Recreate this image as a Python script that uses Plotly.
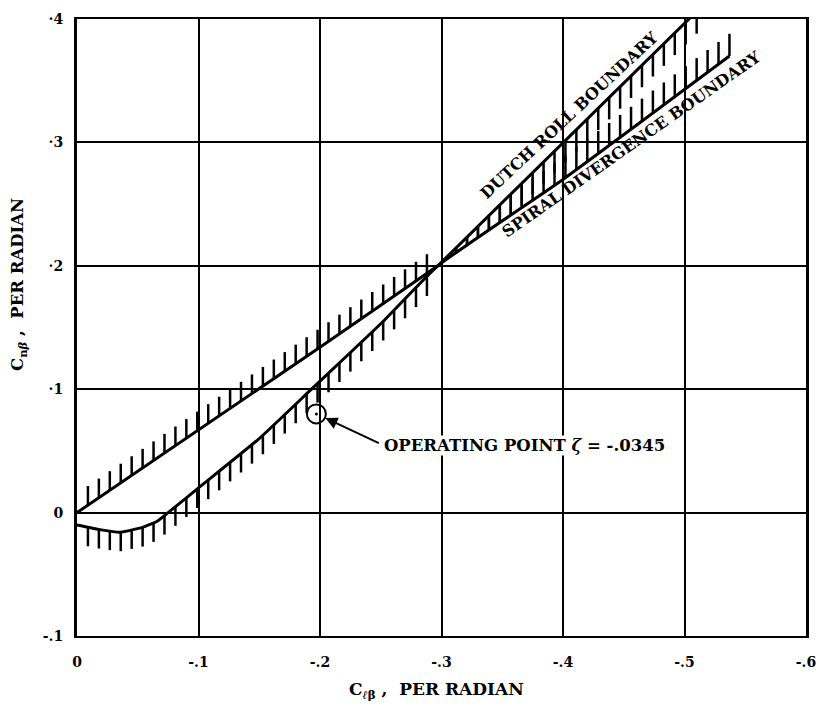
import numpy as np
import plotly.graph_objects as go

# ---- data ----
dutch_x = [0.0, -0.200, -0.297, -0.400, -0.513]
dutch_y = [0.0, 0.134, 0.200, 0.300, 0.409]

spiral_x = [0.0, -0.020, -0.035, -0.054, -0.066, -0.075, -0.100, -0.150, -0.193, -0.250, -0.297, -0.400, -0.537]
spiral_y = [-0.010, -0.014, -0.016, -0.012, -0.007, 0.000, 0.020, 0.060, 0.100, 0.153, 0.200, 0.270, 0.370]

cross_x = -0.297          # where the two boundaries meet
op_x, op_y = [-0.197], [0.080]   # operating point

x_ticks = [0, -0.1, -0.2, -0.3, -0.4, -0.5, -0.6]
x_ticktext = ["0", "-.1", "-.2", "-.3", "-.4", "-.5", "-.6"]
y_ticks = [-0.1, 0, 0.1, 0.2, 0.3, 0.4]
y_ticktext = ["-.1", "0", "·1", "·2", "·3", "·4"]

# ---- hatch style ----
HATCH_STEP = 0.009
HATCH_LEN = 0.0155
HATCH_LEN2 = 0.018

def f(xs, ys, xq):
    return float(np.interp(-xq, -np.array(xs), np.array(ys)))

hx, hy = [], []
def tick(x, y0, y1):
    hx.extend([x, x, None]); hy.extend([y0, y1, None])

q = HATCH_STEP
while -q > cross_x + 0.002:
    xq = -q
    yd = f(dutch_x, dutch_y, xq)
    tick(xq, yd, yd + HATCH_LEN)
    ys = f(spiral_x, spiral_y, xq)
    tick(xq, ys, ys - HATCH_LEN)
    q += HATCH_STEP
q = -cross_x + 0.006
while -q >= spiral_x[-1] - 1e-9:
    xq = -q
    ys = f(spiral_x, spiral_y, xq)
    if xq >= dutch_x[-1]:
        yd = f(dutch_x, dutch_y, xq)
        tick(xq, ys, min(ys + HATCH_LEN2, yd))
        tick(xq, yd, max(yd - HATCH_LEN2, ys))
    else:
        tick(xq, ys, ys + HATCH_LEN2)
    q += HATCH_STEP

FONT = "DejaVu Serif"
fig = go.Figure()
fig.add_trace(go.Scatter(x=hx, y=hy, mode="lines", line=dict(color="black", width=2.5),
                         hoverinfo="skip", showlegend=False))
fig.add_trace(go.Scatter(x=dutch_x, y=dutch_y, mode="lines", line=dict(color="black", width=3),
                         showlegend=False))
fig.add_trace(go.Scatter(x=spiral_x, y=spiral_y, mode="lines",
                         line=dict(color="black", width=3, shape="spline", smoothing=0.4),
                         showlegend=False))
fig.add_trace(go.Scatter(x=op_x, y=op_y, mode="markers",
                         marker=dict(symbol="circle-open", size=19, color="black", line=dict(width=2)),
                         showlegend=False))
fig.add_trace(go.Scatter(x=op_x, y=op_y, mode="markers",
                         marker=dict(symbol="circle", size=3, color="black"), showlegend=False))

fig.add_annotation(x=op_x[0], y=op_y[0], xref="x", yref="y", text="", showarrow=True,
                   ax=64, ay=30, arrowhead=2, arrowsize=1.2, arrowwidth=2, arrowcolor="black",
                   standoff=10, startstandoff=0)
fig.add_annotation(x=-0.252, y=0.054, xref="x", yref="y", xanchor="left", yanchor="middle",
                   text="<b>OPERATING POINT <i>ζ</i> = -.0345</b>", showarrow=False,
                   font=dict(family=FONT, size=16.5, color="black"), bgcolor="white", borderpad=0)
fig.add_annotation(x=-0.403, y=0.323, xref="x", yref="y", text="<b>DUTCH ROLL BOUNDARY</b>",
                   showarrow=False, textangle=-43, xshift=2, yshift=-1,
                   font=dict(family=FONT, size=16, color="black"))
fig.add_annotation(x=-0.456, y=0.298, xref="x", yref="y", text="<b>SPIRAL DIVERGENCE BOUNDARY</b>",
                   showarrow=False, textangle=-35,
                   font=dict(family=FONT, size=16, color="black"))

# axis titles (placed as in the reference)
fig.add_annotation(x=0.4925, y=0, xref="paper", yref="paper", yshift=-54,
                   xanchor="center", yanchor="middle", showarrow=False,
                   text="<b>C<sub><i>ℓ</i>β</sub> ,  PER RADIAN</b>",
                   font=dict(family=FONT, size=17, color="black"))
fig.add_annotation(x=0, y=0.569, xref="paper", yref="paper", xshift=-58,
                   xanchor="center", yanchor="middle", showarrow=False, textangle=-90,
                   text="<b>C<sub>n<i>β</i></sub> ,  PER RADIAN</b>",
                   font=dict(family=FONT, size=16.5, color="black"))

fig.update_layout(
    width=820, height=709,
    margin=dict(l=77, r=14, t=19, b=73),
    paper_bgcolor="white", plot_bgcolor="white",
    font=dict(family=FONT, color="black"),
    showlegend=False,
)
fig.update_xaxes(range=[0, -0.6], tickvals=x_ticks, ticktext=x_ticktext, automargin=False,
                 showgrid=True, gridcolor="black", gridwidth=2, zeroline=False,
                 showline=True, linecolor="black", linewidth=2, mirror=True,
                 ticks="", ticklabelstandoff=12,
                 tickfont=dict(family=FONT, size=14, color="black", weight="bold"))
fig.update_yaxes(range=[-0.1, 0.4], tickvals=y_ticks, ticktext=y_ticktext, automargin=False,
                 showgrid=True, gridcolor="black", gridwidth=2, zeroline=True,
                 zerolinecolor="black", zerolinewidth=2,
                 showline=True, linecolor="black", linewidth=3, mirror=True,
                 ticks="", ticklabelstandoff=8,
                 tickfont=dict(family=FONT, size=14, color="black", weight="bold"))

# remove the browser's default page margin so the 820x709 figure fills the window exactly
fig.write_html("out.html", config={"displayModeBar": False},
               post_script="document.body.style.margin='0';document.body.style.overflow='hidden';")
